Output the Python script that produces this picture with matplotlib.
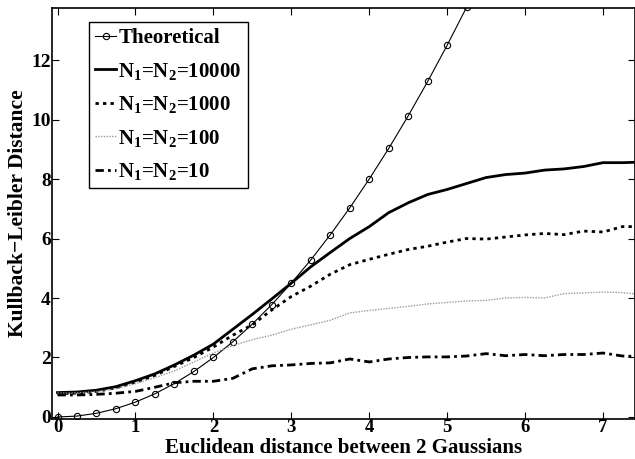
import numpy as np
import matplotlib
matplotlib.use('Agg')
import matplotlib.pyplot as plt

plt.rcParams['font.family'] = ['Liberation Serif', 'DejaVu Serif']
plt.rcParams['font.weight'] = 'bold'
plt.rcParams['mathtext.fontset'] = 'custom'
plt.rcParams['mathtext.rm'] = 'Liberation Serif:bold'
plt.rcParams['mathtext.it'] = 'Liberation Serif:bold'
plt.rcParams['mathtext.bf'] = 'Liberation Serif:bold'
plt.rcParams['mathtext.default'] = 'rm'

# distance between the two gaussians (step 0.25)
dist = [0, 0.25, 0.5, 0.75, 1, 1.25, 1.5, 1.75, 2, 2.25, 2.5, 2.75, 3, 3.25, 3.5,
        3.75, 4, 4.25, 4.5, 4.75, 5, 5.25, 5.5, 5.75, 6, 6.25, 6.5, 6.75, 7, 7.25, 7.5]

theo_x = [0, 0.25, 0.5, 0.75, 1, 1.25, 1.5, 1.75, 2, 2.25, 2.5, 2.75, 3, 3.25,
          3.5, 3.75, 4, 4.25, 4.5, 4.75, 5, 5.25, 5.5]
theo_kl = [0, 0.03, 0.125, 0.28, 0.5, 0.78, 1.125, 1.53, 2.0, 2.53, 3.125, 3.78,
           4.5, 5.28, 6.125, 7.03, 8.0, 9.03, 10.125, 11.28, 12.5, 13.78, 15.125]

kl_10000 = [0.82, 0.84, 0.9, 1.02, 1.22, 1.45, 1.75, 2.08, 2.45, 2.95, 3.45, 3.97,
            4.5, 5.05, 5.53, 6.0, 6.4, 6.87, 7.2, 7.48, 7.65, 7.85, 8.05, 8.15,
            8.2, 8.3, 8.34, 8.42, 8.55, 8.55, 8.57]
kl_1000 = [0.78, 0.8, 0.86, 0.98, 1.17, 1.4, 1.7, 2.0, 2.35, 2.75, 3.1, 3.6,
           4.05, 4.4, 4.8, 5.12, 5.3, 5.47, 5.63, 5.74, 5.88, 6.0, 5.98, 6.05,
           6.12, 6.17, 6.13, 6.25, 6.22, 6.4, 6.4]
kl_100 = [0.8, 0.81, 0.85, 0.95, 1.12, 1.32, 1.55, 1.85, 2.15, 2.4, 2.6, 2.75,
          2.95, 3.1, 3.25, 3.5, 3.58, 3.65, 3.72, 3.8, 3.85, 3.9, 3.92, 4.0,
          4.02, 4.0, 4.15, 4.17, 4.2, 4.18, 4.12]
kl_10 = [0.74, 0.74, 0.76, 0.8, 0.86, 1.0, 1.15, 1.2, 1.2, 1.3, 1.62, 1.72,
         1.75, 1.8, 1.82, 1.95, 1.85, 1.95, 2.0, 2.02, 2.02, 2.05, 2.13, 2.06,
         2.1, 2.06, 2.1, 2.1, 2.15, 2.05, 2.03]

fig = plt.figure(figsize=(6.35, 4.59), dpi=100)
ax = fig.add_axes([0.082, 0.087, 0.918, 0.8956])

ax.plot(theo_x, theo_kl, 'k-o', lw=0.8, ms=4.5, mfc='none', mew=0.8, label='Theoretical')
ax.plot(dist, kl_10000, 'k-', lw=2, label='N$_1$=N$_2$=10000')
ax.plot(dist, kl_1000, 'k', ls=(0, (1.2, 1.5)), lw=2, label='N$_1$=N$_2$=1000')
ax.plot(dist, kl_100, color='#999999', ls=(0, (1, 1)), lw=1, label='N$_1$=N$_2$=100')
ax.plot(dist, kl_10, 'k', ls=(0, (3, 1.5, 1, 1.5)), lw=2, label='N$_1$=N$_2$=10')

ax.set_xlim(-0.07, 7.41)
ax.set_ylim(-0.07, 13.75)
ax.set_xticks(range(0, 8))
ax.set_yticks(range(0, 13, 2))
ax.tick_params(direction='in', top=True, right=True, length=5, width=0.8,
               labelsize=14, pad=1)
ax.tick_params(axis='x', pad=0, labelsize=13.5)
for s in ax.spines.values():
    s.set_linewidth(1.2)

ax.set_xlabel('Euclidean distance between 2 Gaussians', fontsize=15, fontweight='bold')
ax.xaxis.set_label_coords(0.5, -0.045)
ax.set_ylabel('Kullback\u2212Leibler Distance', fontsize=15.5, fontweight='bold', labelpad=2)

leg = ax.legend(loc='upper left', bbox_to_anchor=(0.0636, 0.966), borderaxespad=0,
                fontsize=15, handlelength=1.0, handletextpad=0.1,
                labelspacing=0.6, borderpad=0.3, fancybox=False,
                framealpha=1, edgecolor='black')
leg.get_frame().set_linewidth(1.0)

fig.savefig('out.png', dpi=100)
